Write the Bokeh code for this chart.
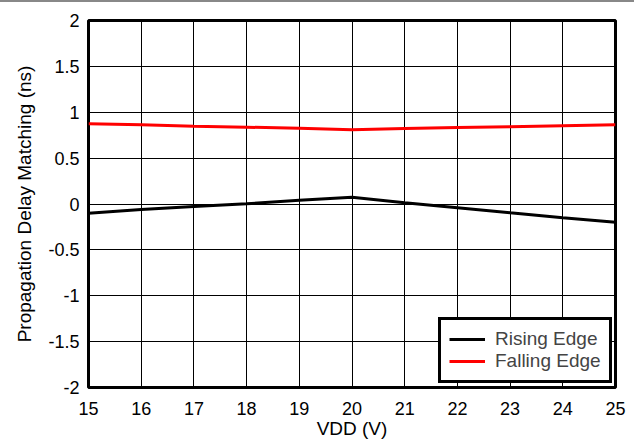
from bokeh.plotting import figure
from bokeh.models import FixedTicker, Legend, LegendItem, Div
from bokeh.layouts import column
from bokeh.embed import file_html
from bokeh.resources import INLINE

vdd = [15, 16, 17, 18, 19, 20, 21, 22, 23, 24, 25]
rising = [-0.10, -0.06, -0.027, 0.002, 0.04, 0.074, 0.013, -0.04, -0.096, -0.15, -0.198]
falling = [0.874, 0.863, 0.848, 0.837, 0.826, 0.81, 0.823, 0.834, 0.841, 0.852, 0.863]
x_ticks = [15, 16, 17, 18, 19, 20, 21, 22, 23, 24, 25]
y_ticks = [-2, -1.5, -1, -0.5, 0, 0.5, 1, 1.5, 2]
y_tick_labels = ["-2", "-1.5", "-1", "-0.5", "0", "0.5", "1", "1.5", "2"]

FONT = "Liberation Sans"

p = figure(width=634, height=440, x_range=(15, 25), y_range=(-2, 2),
           output_backend="svg", toolbar_location=None,
           min_border_left=88, min_border_right=19, min_border_top=18, min_border_bottom=55,
           margin=(0, 0, 0, 0))

p.outline_line_color = "black"
p.outline_line_width = 3

for ax in (p.xaxis, p.yaxis):
    ax.axis_line_color = None
    ax.major_tick_line_color = None
    ax.minor_tick_line_color = None
    ax.major_label_text_font = FONT
    ax.major_label_text_font_size = "18px"
    ax.major_label_text_color = "black"
    ax.axis_label_text_font = FONT
    ax.axis_label_text_font_size = "19px"
    ax.axis_label_text_font_style = "normal"
    ax.axis_label_text_color = "black"

p.xaxis.ticker = FixedTicker(ticks=x_ticks)
p.yaxis.ticker = FixedTicker(ticks=y_ticks)
p.yaxis.major_label_overrides = {t: l for t, l in zip(y_ticks, y_tick_labels)}
p.xaxis.major_label_standoff = 8
p.yaxis.major_label_standoff = 3
p.xaxis.axis_label = "VDD (V)"
p.yaxis.axis_label = "Propagation Delay Matching (ns)"
p.xaxis.axis_label_standoff = 0
p.yaxis.axis_label_standoff = 10

for g in (p.xgrid, p.ygrid):
    g.grid_line_color = "black"
    g.grid_line_width = 1
    g.grid_line_alpha = 1

r1 = p.line(vdd, rising, line_color="black", line_width=3)
r2 = p.line(vdd, falling, line_color="#ff0000", line_width=3)

legend = Legend(items=[LegendItem(label="Rising Edge", renderers=[r1]),
                       LegendItem(label="Falling Edge", renderers=[r2])],
                location=(350, 4))
legend.margin = 0
legend.padding = 8
legend.spacing = 0
legend.label_height = 20
legend.glyph_height = 20
legend.glyph_width = 36
legend.label_standoff = 10
legend.label_text_font = FONT
legend.label_text_font_size = "19px"
legend.border_line_color = "black"
legend.border_line_width = 3
legend.border_line_alpha = 1
legend.background_fill_alpha = 1
p.add_layout(legend, "center")

bar = Div(width=634, height=2, margin=(0, 0, 0, 0), styles={"background-color": "#888888"})
layout = column(bar, p, spacing=0, margin=(0, 0, 0, 0))

open("out.html", "w").write(file_html(layout, INLINE))
